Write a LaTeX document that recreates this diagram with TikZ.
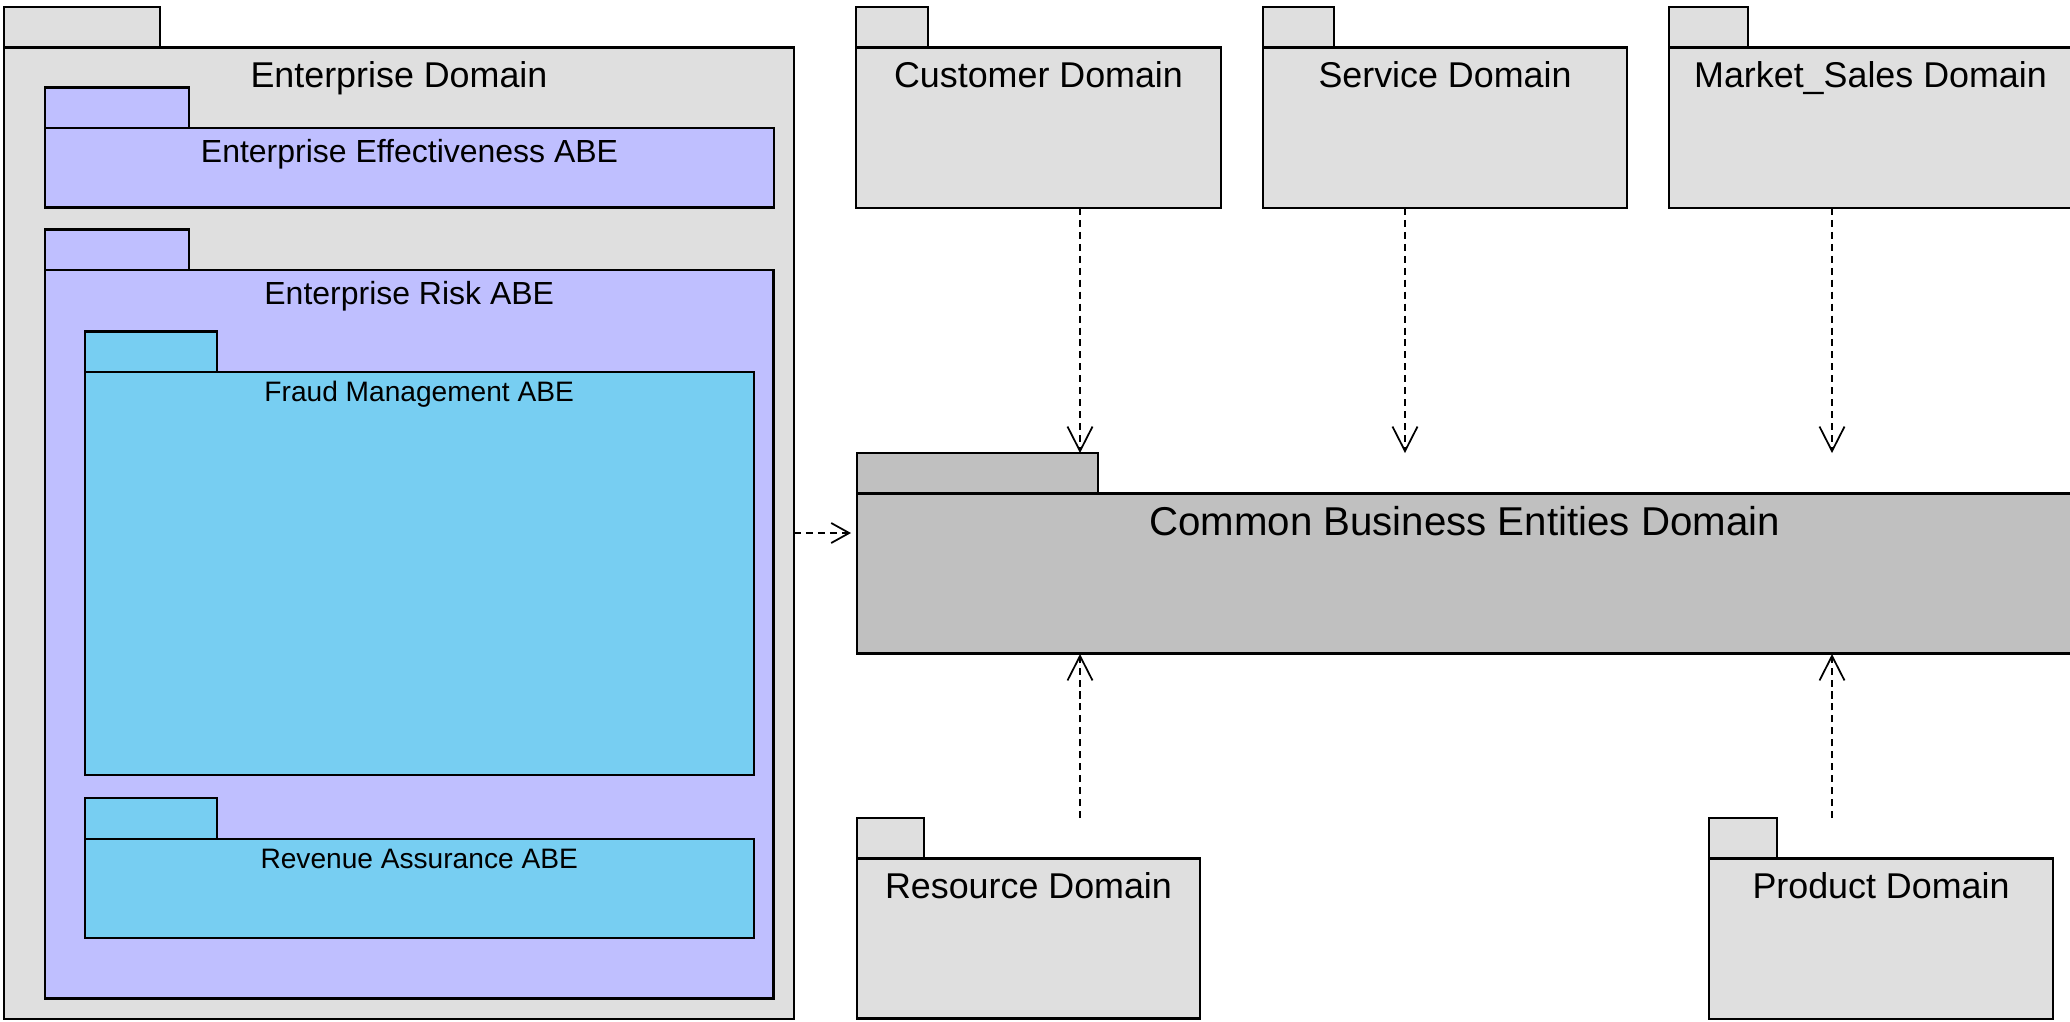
\documentclass[tikz,border=0pt]{standalone}
\usepackage{fontspec}
\setmainfont{Liberation Sans}
\usetikzlibrary{arrows.meta}

\definecolor{domgrey}{RGB}{223,223,223}
\definecolor{commongrey}{RGB}{192,192,192}
\definecolor{abepurple}{RGB}{191,191,255}
\definecolor{abeblue}{RGB}{119,206,242}

\tikzset{
  pkg/.style={draw, line width=.65pt, inner sep=0pt, outer sep=0pt},
  dom/.style={pkg, fill=domgrey},
  dom text/.style={font=\fontsize{10.2}{12}\selectfont, yshift=-4mm},
  abe/.style={pkg, fill=abepurple},
  abe text/.style={font=\fontsize{9.1}{11}\selectfont, yshift=-3.4mm},
  sub/.style={pkg, fill=abeblue},
  sub text/.style={font=\fontsize{8}{10}\selectfont, yshift=-2.95mm},
  common/.style={pkg, fill=commongrey},
  common text/.style={font=\fontsize{11.45}{14}\selectfont, yshift=-4.15mm},
  dep/.style={line width=.5pt, dash pattern=on 2pt off 1.4pt,
    -{Straight Barb[length=2.45mm, width=2.5mm]}},
}

% UML package: body, tab on top of it, name on the first line
% #1 name, #2 top left corner, #3 width, #4 height, #5 tab width, #6 kind, #7 text
\newcommand{\pkg}[7]{%
  \node[#6, anchor=north west, minimum width=#3, minimum height=#4] (#1) at (#2) {};
  \node[#6, anchor=south west, minimum width=#5, minimum height=4.05mm] (#1tab) at (#1.north west) {};
  \node[#6 text, anchor=base] (#1name) at (#1.north) {#7};
}

\begin{document}
\begin{tikzpicture}[x=1mm, y=-1mm]
  \useasboundingbox (0,0) rectangle (207,102.1);
  \fill[white] (0,0) rectangle (207,102.1);
  \clip (0,0) rectangle (207,102.1);

  % enterprise domain and its ABEs
  \pkg{ent}{0.4,4.75}{79mm}{97.15mm}{15.6mm}{dom}{Enterprise Domain}
  \pkg{eff}{4.5,12.8}{72.9mm}{7.95mm}{14.4mm}{abe}{Enterprise Effectiveness ABE}
  \pkg{risk}{4.5,27}{72.85mm}{72.85mm}{14.4mm}{abe}{Enterprise Risk ABE}
  \pkg{fraud}{8.47,37.2}{66.9mm}{40.3mm}{13.23mm}{sub}{Fraud Management ABE}
  \pkg{rev}{8.47,83.87}{66.9mm}{9.93mm}{13.23mm}{sub}{Revenue Assurance ABE}

  % other domains
  \foreach \n/\x/\w/\t/\lab in {cust/85.6/36.5/7.2/Customer Domain,
      serv/126.3/36.4/7.1/Service Domain,
      mkt/166.9/40.3/7.9/Market\_Sales Domain}
    {\pkg{\n}{\x,4.75}{\w mm}{16.05mm}{\t mm}{dom}{\lab}}
  \pkg{cbe}{85.7,49.35}{121.5mm}{16mm}{24.1mm}{common}{Common Business Entities Domain}
  \pkg{res}{85.7,85.85}{34.3mm}{16mm}{6.7mm}{dom}{Resource Domain}
  \pkg{prod}{170.9,85.85}{34.4mm}{16.05mm}{6.8mm}{dom}{Product Domain}

  % dependency ends on the common package
  \coordinate (in1) at (108,45.3);
  \coordinate (in2) at (140.5,45.3);
  \coordinate (in3) at (183.2,45.3);
  \coordinate (out1) at (108,65.4);
  \coordinate (out3) at (183.2,65.4);
  \coordinate (left) at (85.1,53.3);

  \draw[dep] (cust.south -| in1) -- (in1);
  \draw[dep] (serv.south -| in2) -- (in2);
  \draw[dep] (mkt.south -| in3) -- (in3);
  \draw[dep] (restab.north -| out1) -- (out1);
  \draw[dep] (prodtab.north -| out3) -- (out3);
  \draw[dep, -{Straight Barb[length=1.8mm, width=2mm]}] (ent.east |- left) -- (left);
\end{tikzpicture}
\end{document}
